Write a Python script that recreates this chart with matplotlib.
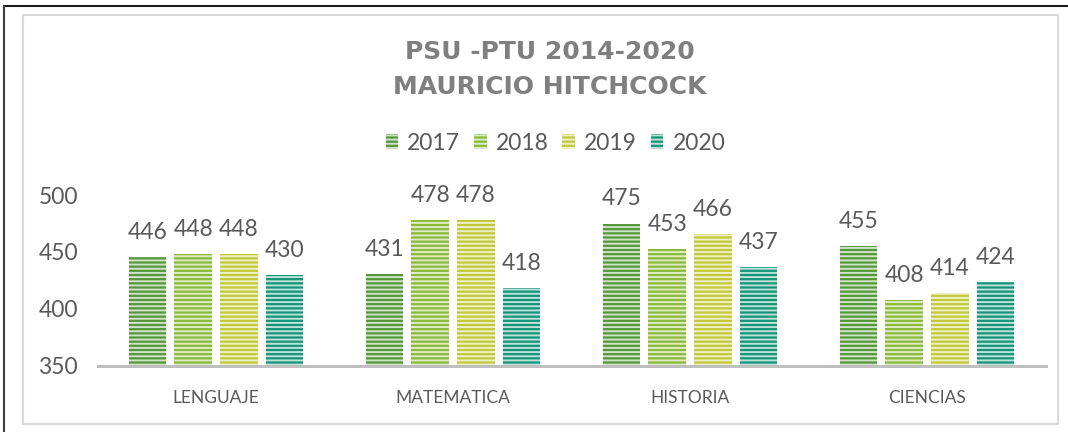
import matplotlib
matplotlib.use("Agg")
import matplotlib.pyplot as plt
import numpy as np
from matplotlib.patches import Rectangle
from matplotlib.lines import Line2D
from matplotlib.legend_handler import HandlerTuple

categories = ["LENGUAJE", "MATEMATICA", "HISTORIA", "CIENCIAS"]
years = ["2017", "2018", "2019", "2020"]
values = {
    "2017": [446, 431, 475, 455],
    "2018": [448, 478, 453, 408],
    "2019": [448, 478, 466, 414],
    "2020": [430, 418, 437, 424],
}
colors = ["#55983a", "#8aba38", "#c2c938", "#149579"]
yticks = [350, 400, 450, 500]

plt.rcParams["hatch.linewidth"] = 1.4
plt.rcParams["font.family"] = ["Lato", "DejaVu Sans"]

fig = plt.figure(figsize=(10.68, 4.32), dpi=100)
ax = fig.add_axes([0.0913, 0.1528, 0.979 - 0.0913, 0.5486 - 0.1528])

x = np.arange(len(categories))
step = 0.193
width = 0.158
txt = "#595959"
handles = []
for i, yr in enumerate(years):
    pos = x + (i - 1.5) * step
    vals = np.array(values[yr])
    b1 = ax.bar(pos, vals - 350, width, bottom=350, color=colors[i], linewidth=0, zorder=2)
    b2 = ax.bar(pos, vals - 350, width, bottom=350, facecolor="none",
                edgecolor=(1, 1, 1, 0.72), linewidth=0, hatch="----", zorder=3)
    handles.append((b1[0], b2[0]))
    for p, v in zip(pos, vals):
        ax.annotate(str(v), (p, v), xytext=(0, 13), textcoords="offset points",
                    ha="center", va="baseline", fontsize=16.5, color=txt)

ax.set_xlim(-0.5, 3.5)
ax.set_ylim(350, 500)
ax.set_yticks(yticks)
ax.set_yticklabels([str(t) for t in yticks], fontsize=16.5, color=txt)
ax.set_xticks(x)
ax.set_xticklabels(categories, fontsize=12.5, color=txt)
ax.tick_params(axis="y", length=0, pad=14)
ax.tick_params(axis="x", length=0, pad=17)
for s in ["top", "right", "left"]:
    ax.spines[s].set_visible(False)
ax.spines["bottom"].set_color("#bfbfbf")
ax.spines["bottom"].set_linewidth(2.2)
ax.spines["bottom"].set_zorder(4)
ax.patch.set_alpha(0)

fig.text(0.515, 1 - 52 / 432, "PSU -PTU 2014-2020", ha="center", va="center",
         fontsize=18, fontweight="bold", color="#7f7f7f", family="DejaVu Sans")
fig.text(0.515, 1 - 87 / 432, "MAURICIO HITCHCOCK", ha="center", va="center",
         fontsize=18, fontweight="bold", color="#7f7f7f", family="DejaVu Sans")

leg = fig.legend(handles, years, loc="center", bbox_to_anchor=(0.52, 1 - 143 / 432),
                 ncol=4, frameon=False, fontsize=16.5, handlelength=0.55, handleheight=0.65,
                 handletextpad=0.4, columnspacing=0.6,
                 handler_map={tuple: HandlerTuple(ndivide=1, pad=0)})
for t in leg.get_texts():
    t.set_color(txt)

# frames
fig.add_artist(Rectangle((23 / 1068, 1 - 424 / 432), (1058 - 23) / 1068, (424 - 15) / 432,
                         transform=fig.transFigure, fill=False, edgecolor="#d9d9d9", linewidth=1.5))
fig.add_artist(Line2D([4 / 1068, 1], [1 - 6 / 432, 1 - 6 / 432], transform=fig.transFigure,
                      color="#1a1a1a", linewidth=1.5))
fig.add_artist(Line2D([4 / 1068, 4 / 1068], [0, 1 - 6 / 432], transform=fig.transFigure,
                      color="#404040", linewidth=1.5))

fig.savefig("out.png", dpi=100)
